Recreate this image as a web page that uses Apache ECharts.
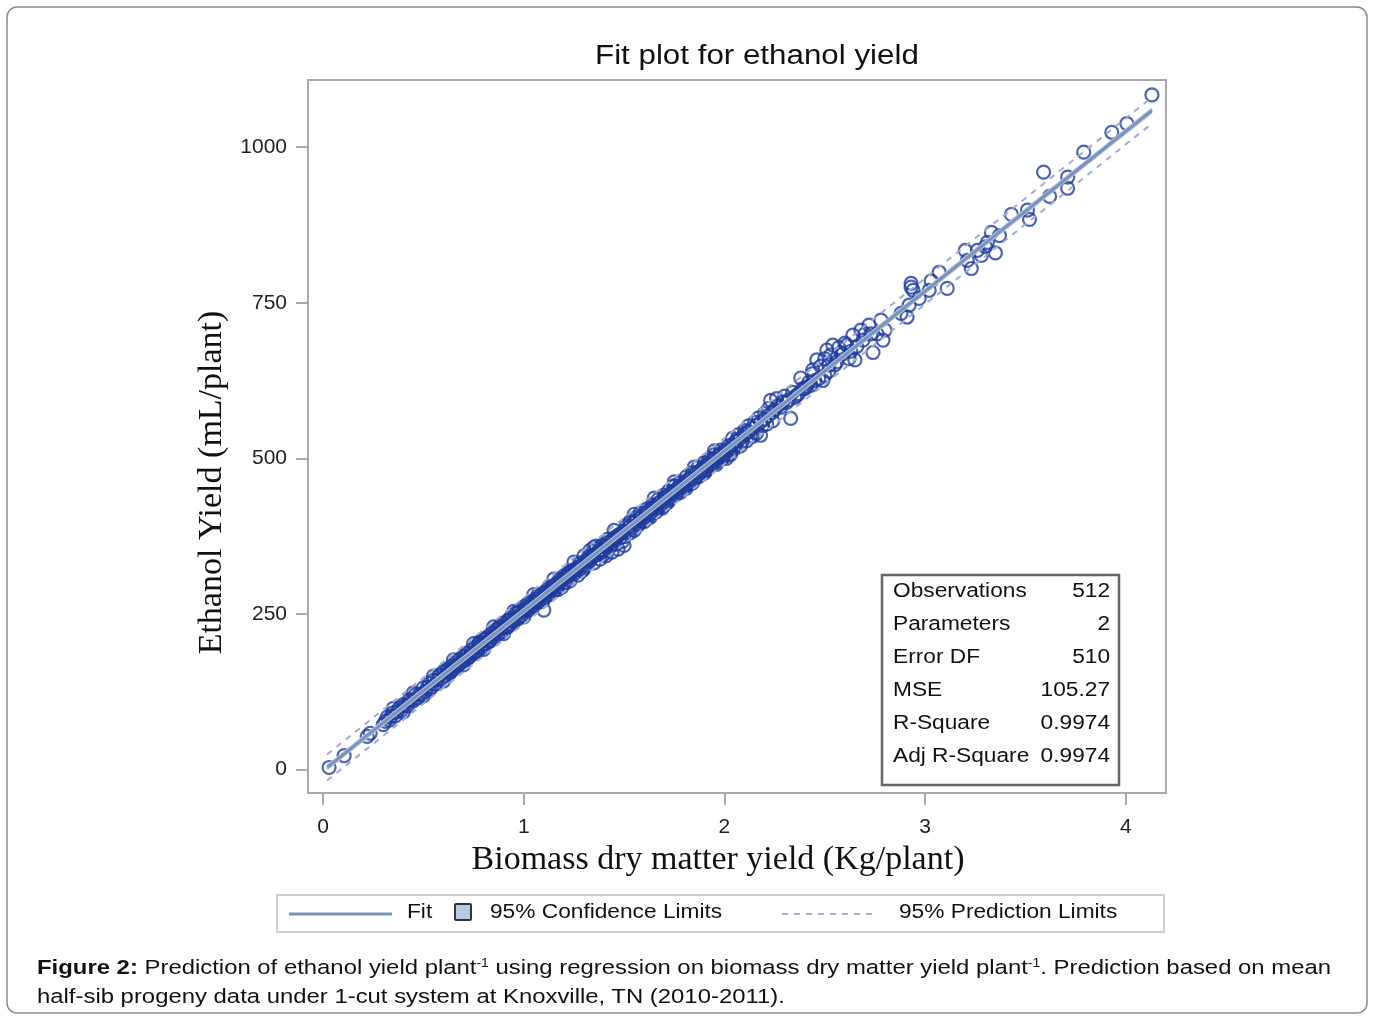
<!DOCTYPE html>
<html><head><meta charset="utf-8">
<script src="https://cdn.jsdelivr.net/npm/echarts@6/dist/echarts.min.js"></script>
<style>
html,body{margin:0;padding:0;background:#fff;}
#chart{position:absolute;left:0;top:0;width:1373px;height:1017px;}
#cap{position:absolute;left:37px;top:952px;font-family:"Liberation Sans",Arial,sans-serif;font-size:20.5px;line-height:29px;color:#111;white-space:nowrap;transform:scaleX(1.165);transform-origin:0 0;}
#cap sup{font-size:12px;vertical-align:top;position:relative;top:-3px;}
</style></head><body>
<div id="chart"></div>
<div id="cap"><b>Figure 2:</b> Prediction of ethanol yield plant<sup>-1</sup> using regression on biomass dry matter yield plant<sup>-1</sup>. Prediction based on mean<br>half-sib progeny data under 1-cut system at Knoxville, TN (2010-2011).</div>
<script>
// ---- data ----
const biomassKg = [
 0.03,0.105,0.22,0.235,0.30,0.32,0.33,0.35,0.36,0.38,0.39,0.40,0.42,0.43,0.45,0.46,0.47,0.49,0.50,0.51,0.53,0.54,0.55,0.56,0.58,0.59,0.60,
 0.61,0.62,0.63,0.64,0.65,0.66,0.67,0.68,0.69,0.70,0.71,0.72,0.73,0.74,0.75,0.76,0.77,0.78,0.79,0.80,0.81,0.82,0.83,0.84,0.85,0.86,0.87,0.88,0.89,0.90,0.91,0.92,0.93,0.94,0.95,0.96,0.97,0.98,0.99,1.00,
 0.64,0.70,0.76,0.81,0.87,0.93,0.98,
 1.01,1.02,1.03,1.04,1.05,1.06,1.07,1.08,1.09,1.10,1.10,1.11,1.12,1.13,1.14,1.15,1.16,1.17,1.18,1.19,1.20,1.21,1.22,1.23,1.24,1.25,1.26,1.27,1.28,1.29,1.30,1.31,1.32,1.33,1.34,1.35,1.36,1.37,1.38,1.39,1.40,1.41,1.42,1.43,1.44,1.45,1.46,1.47,1.48,1.49,1.50,
 1.51,1.52,1.53,1.54,1.55,1.56,1.57,1.58,1.59,1.60,1.61,1.62,1.63,1.64,1.65,1.66,1.67,1.68,1.69,1.70,1.71,1.72,1.73,1.74,1.75,1.76,1.77,1.78,1.79,1.80,1.81,1.82,1.83,1.84,1.85,1.86,1.87,1.88,1.89,1.90,1.91,1.92,1.93,1.94,1.95,1.96,1.97,1.98,1.99,2.00,
 2.01,2.02,2.03,2.04,2.05,2.06,2.07,2.08,2.10,2.11,2.12,2.13,2.15,2.16,2.17,2.18,2.20,2.21,2.22,2.23,2.25,2.26,2.27,2.29,2.30,2.32,2.33,2.34,2.36,2.38,2.40,2.42,2.43,2.44,2.46,2.47,2.48,2.49,2.50,2.51,2.52,2.53,2.54,2.55,2.57,2.58,2.60,2.61,2.62,2.64,2.65,2.68,2.70,2.72,2.74,2.76,2.78,2.79,2.80,
 2.88,2.91,2.92,2.94,2.93,2.93,2.97,3.02,3.03,3.07,3.11,3.20,3.21,3.23,3.26,3.28,3.30,3.31,3.33,3.35,3.37,3.43,3.51,3.52,3.59,3.62,3.71,3.71,3.79,3.93,4.005,4.13,
 0.31,0.34,0.37,0.41,0.44,0.48,0.52,0.57,0.62,0.66,0.68,0.71,0.74,0.77,0.79,0.82,0.84,0.86,0.89,0.91,0.94,0.96,0.99,1.01,1.03,1.05,1.06,1.08,1.11,1.12,1.14,1.16,1.18,1.19,1.21,1.22,1.24,1.26,1.27,1.29,1.31,1.32,1.34,1.35,1.37,1.38,1.40,1.41,1.43,1.44,1.46,1.47,1.49,1.50,
 1.52,1.53,1.55,1.56,1.58,1.59,1.61,1.62,1.64,1.65,1.67,1.68,1.70,1.71,1.73,1.74,1.76,1.77,1.79,1.80,1.82,1.83,1.85,1.86,1.88,1.89,1.91,1.92,1.94,1.95,1.97,1.98,2.00,2.02,2.04,2.06,2.08,2.10,2.12,2.14,2.16,2.18,2.20,2.22,2.24,
 0.53,0.58,0.63,0.72,0.78,0.83,0.88,0.92,0.97,1.02,1.07,1.13,1.17,1.23,1.28,1.33,1.36,1.39,1.42,1.45,1.48,1.53,1.57,1.60,1.63,1.66,1.69,1.72,1.75,1.78,1.81,1.84,1.87,1.90,1.93,1.96,1.99,2.03,2.05,2.09,2.11,2.14,2.19,2.24,2.28,2.31,2.35,2.37,2.39,2.41,2.45,2.44,2.50,2.52,2.56,2.59,2.63,2.66,2.69,2.73,
 0.35,0.40,0.45,0.50,0.55,0.60,0.65,0.70,0.75,0.80,0.85,0.90,0.95,1.00,1.05,1.10,1.15,1.20,1.25,1.30,1.35,1.40,1.45,1.50,1.55,1.60,1.65,1.70,1.75,1.80,1.85,1.90,1.95,2.00
];
const ethanolMl = [
 3,22,53,58,72,84,79,91,86,99,95,104,102,112,110,120,115,121,131,125,138,132,143,137,150,146,157,
 151,161,157,166,162,171,166,177,172,182,176,187,181,192,186,197,190,203,196,209,202,213,206,219,212,224,217,229,221,235,228,239,232,246,237,251,242,256,247,261,
 158,175,189,210,225,242,245,
 258,266,259,270,263,274,268,279,270,256,284,279,290,281,294,287,298,289,306,293,311,300,315,303,320,314,322,312,332,319,343,327,336,352,340,332,355,345,338,360,352,343,365,357,349,372,362,354,378,366,360,
 392,381,398,388,384,405,394,412,399,403,418,406,410,425,413,419,434,421,425,441,428,447,436,438,456,442,447,462,450,455,470,458,461,477,466,470,486,473,478,493,481,498,487,490,506,494,498,513,502,508,
 500,520,506,532,515,527,538,520,545,528,552,536,558,540,565,537,572,555,580,593,578,596,585,590,600,594,564,606,601,629,612,622,617,636,658,628,648,625,660,674,640,666,682,650,678,670,685,682,660,698,658,706,700,714,670,700,722,690,706,
 733,727,746,770,781,775,757,770,785,799,773,834,818,805,834,826,840,847,863,830,858,892,899,884,960,921,952,934,992,1024,1038,1084,
 77,85,93,103,111,121,132,144,158,166,170,181,187,195,200,207,213,219,226,231,239,243,253,257,263,268,270,275,284,286,290,296,301,304,309,311,316,321,325,329,335,340,343,345,350,352,358,359,364,368,373,376,380,383,
 389,391,396,400,404,407,412,415,420,422,427,430,436,438,443,446,450,453,458,461,466,468,474,477,480,484,488,491,496,500,504,507,512,515,522,529,532,538,543,548,553,558,563,569,574,
 128,152,154,178,205,206,230,229,252,255,280,286,293,317,322,335,359,350,370,363,372,380,392,398,405,414,420,430,455,445,452,460,470,476,500,490,500,512,520,528,541,535,552,560,582,590,598,604,612,615,625,642,633,650,655,668,672,680,690,700,
 98,92,123,118,150,142,176,168,202,193,229,218,254,245,281,273,306,299,333,322,357,346,384,374,410,400,436,425,462,452,486,478,512,503
];
const fitX = [0.02, 4.13];
const fitY = [3, 1059];
const upperPredY = [24, 1080];
const lowerPredY = [-18, 1038];
const upperConfY = [6, 1062];
const lowerConfY = [0, 1056];
const yTicks = [0, 250, 500, 750, 1000];
const xTicks = [0, 1, 2, 3, 4];
const statLabels = ['Observations','Parameters','Error DF','MSE','R-Square','Adj R-Square'];
const statValues = ['512','2','510','105.27','0.9974','0.9974'];
// ---------------------------------------------

const pts = biomassKg.map((x,i)=>[x, ethanolMl[i]]);
const pair = (ys)=> fitX.map((x,i)=>[x, ys[i]]);
const SANS = '"Liberation Sans", Arial, sans-serif';
const SERIF = '"Liberation Serif", "Times New Roman", serif';
const FIT = '#7b93b8', PRED = '#a3a9cf', PT = '#1f3c9e';
const SX = 1.135;

const graphics = [
  {type:'rect', shape:{x:7,y:7,width:1360,height:1006,r:10}, style:{fill:'none',stroke:'#8a8a8a',lineWidth:1.5}, z:-10, silent:true},
  {type:'text', x:595, y:57, scaleX:1.16, style:{text:'Fit plot for ethanol yield',font:'27px '+SANS,fill:'#111',verticalAlign:'middle'}},
  // legend box
  {type:'rect', shape:{x:277,y:895,width:887,height:37}, style:{fill:'#fff',stroke:'#cfcfcf',lineWidth:2}, silent:true},
  {type:'line', shape:{x1:289,y1:914,x2:392,y2:914}, style:{stroke:FIT,lineWidth:3}, silent:true},
  {type:'text', x:407, y:912, scaleX:SX, style:{text:'Fit',font:'20px '+SANS,fill:'#111',verticalAlign:'middle'}},
  {type:'rect', shape:{x:455,y:904,width:16,height:16,r:1}, style:{fill:'#b5c7e3',stroke:'#333',lineWidth:2}, silent:true},
  {type:'text', x:490, y:912, scaleX:SX, style:{text:'95% Confidence Limits',font:'20px '+SANS,fill:'#111',verticalAlign:'middle'}},
  {type:'line', shape:{x1:782,y1:914,x2:878,y2:914}, style:{stroke:PRED,lineWidth:2,lineDash:[6,6]}, silent:true},
  {type:'text', x:899, y:912, scaleX:SX, style:{text:'95% Prediction Limits',font:'20px '+SANS,fill:'#111',verticalAlign:'middle'}},
  // stats box
  {type:'rect', shape:{x:882,y:575,width:237,height:210}, style:{fill:'#fff',stroke:'#666',lineWidth:2.5}, z:50, silent:true}
];
statLabels.forEach((s,i)=>{
  graphics.push({type:'text', x:893, y:591+33*i, z:51, scaleX:SX, style:{text:s,font:'20px '+SANS,fill:'#111',verticalAlign:'middle'}});
  graphics.push({type:'text', x:1110, y:591+33*i, z:51, scaleX:SX, style:{text:statValues[i],font:'20px '+SANS,fill:'#111',align:'right',verticalAlign:'middle'}});
});

const chart = echarts.init(document.getElementById('chart'), null, {renderer:'canvas'});
chart.setOption({
  animation:false,
  backgroundColor:'#fff',
  grid:{left:308, right:207, top:80, bottom:224, show:true, borderColor:'#a9a9a9', borderWidth:2, backgroundColor:'#fff'},
  xAxis:{type:'value', min:-0.075, max:4.2,
    name:'Biomass dry matter yield (Kg/plant)', nameLocation:'middle', nameGap:42,
    nameTextStyle:{fontFamily:SERIF, fontSize:34, color:'#111', padding:[0,38,0,0]},
    axisLine:{show:false, onZero:false}, splitLine:{show:false},
    axisTick:{show:true, length:12, customValues:xTicks, lineStyle:{color:'#a9a9a9',width:2}},
    axisLabel:{customValues:xTicks, margin:24, fontFamily:SANS, fontSize:21, color:'#222'}},
  yAxis:{type:'value', min:-38, max:1108,
    name:'Ethanol Yield (mL/plant)', nameLocation:'middle', nameGap:68,
    nameTextStyle:{fontFamily:SERIF, fontSize:34, color:'#111', padding:[0,92,0,0]},
    axisLine:{show:false, onZero:false}, splitLine:{show:false},
    axisTick:{show:true, length:12, customValues:yTicks, lineStyle:{color:'#a9a9a9',width:2}},
    axisLabel:{customValues:yTicks, margin:21, fontFamily:SANS, fontSize:21, color:'#222', formatter:v=>String(v)}},
  series:[
    {name:'Observations', type:'scatter', data:pts, symbol:'circle', symbolSize:13, z:2,
      itemStyle:{color:'rgba(255,255,255,0)', borderColor:PT, borderWidth:2.2}},
    {name:'95% Prediction Limits', type:'line', data:pair(upperPredY), symbol:'none', z:3,
      lineStyle:{color:PRED, width:2, type:[6,6]}},
    {name:'95% Prediction Limits L', type:'line', data:pair(lowerPredY), symbol:'none', z:3,
      lineStyle:{color:PRED, width:2, type:[6,6]}},
    {name:'95% Confidence Limits', type:'line', data:pair(upperConfY), symbol:'none', z:3,
      lineStyle:{color:'#b5c7e3', width:2}},
    {name:'95% Confidence Limits L', type:'line', data:pair(lowerConfY), symbol:'none', z:3,
      lineStyle:{color:'#b5c7e3', width:2}},
    {name:'Fit', type:'line', data:pair(fitY), symbol:'none', z:4,
      lineStyle:{color:FIT, width:3}}
  ],
  graphic:graphics
});
</script>
</body></html>
